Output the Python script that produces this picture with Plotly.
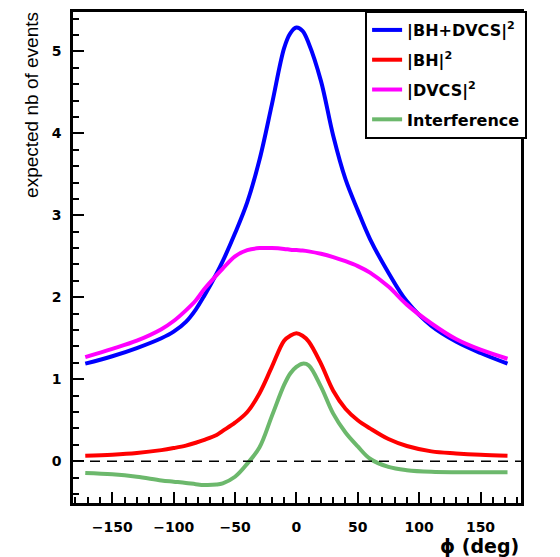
import plotly.graph_objects as go

phi = [-172, -150, -130, -110, -100, -90, -82, -75, -65, -60, -50, -40, -30, -20, -10, -5,
       0, 5, 10, 20, 30, 40, 50, 60, 75, 90, 110, 130, 150, 172]

bh_dvcs = [1.19, 1.28, 1.38, 1.50, 1.58, 1.70, 1.85, 2.02, 2.29, 2.44, 2.78, 3.16, 3.68, 4.35, 5.04, 5.22,
           5.29, 5.25, 5.10, 4.64, 3.97, 3.44, 3.06, 2.71, 2.30, 1.95, 1.65, 1.46, 1.32, 1.19]
bh = [0.067, 0.08, 0.10, 0.135, 0.16, 0.19, 0.225, 0.26, 0.32, 0.37, 0.47, 0.60, 0.83, 1.15, 1.47, 1.53,
      1.56, 1.53, 1.46, 1.19, 0.86, 0.64, 0.50, 0.40, 0.27, 0.185, 0.12, 0.095, 0.078, 0.067]
dvcs = [1.27, 1.37, 1.47, 1.61, 1.71, 1.84, 1.96, 2.10, 2.27, 2.35, 2.50, 2.575, 2.60, 2.60, 2.59, 2.58,
        2.575, 2.57, 2.56, 2.53, 2.49, 2.44, 2.38, 2.30, 2.13, 1.91, 1.68, 1.49, 1.36, 1.25]
interf = [-0.143, -0.16, -0.19, -0.235, -0.25, -0.265, -0.28, -0.29, -0.285, -0.27, -0.19, -0.03, 0.17, 0.55, 0.93, 1.07,
          1.15, 1.19, 1.17, 0.91, 0.58, 0.35, 0.18, 0.03, -0.07, -0.11, -0.13, -0.135, -0.135, -0.135]

series = [
    ("|BH+DVCS|<sup>2</sup>", bh_dvcs, "#0000ff"),
    ("|BH|<sup>2</sup>", bh, "#ff0000"),
    ("|DVCS|<sup>2</sup>", dvcs, "#ff00ff"),
    ("Interference", interf, "#6cb86c"),
]

x_ticks = [-150, -100, -50, 0, 50, 100, 150]
y_ticks = [0, 1, 2, 3, 4, 5]

fig = go.Figure()
for i, (name, vals, col) in enumerate(series):
    fig.add_trace(go.Scatter(
        x=phi, y=vals, mode="lines", name=name, legendgroup=str(i),
        line=dict(color=col, width=4, shape="spline", smoothing=1.0),
    ))

fig.add_shape(type="line", xref="paper", yref="y", x0=0, x1=1, y0=0, y1=0,
              line=dict(color="black", width=1.5, dash="10px,7px"))

axis_common = dict(
    showline=True, linecolor="black", linewidth=2.5, mirror=True,
    showgrid=False, zeroline=False, ticks="inside", tickcolor="black",
    tickwidth=1.5, ticklen=11,
    tickfont=dict(family="DejaVu Sans", size=14, color="black", weight="bold"),
)

fig.update_xaxes(range=[-182, 183], tickvals=x_ticks, ticklabelstandoff=9,
                 minor=dict(dtick=10, tick0=0, ticks="inside", ticklen=6, tickcolor="black", tickwidth=1.5),
                 **axis_common)
fig.update_yaxes(range=[-0.51, 5.48], tickvals=y_ticks, ticklabelstandoff=6,
                 minor=dict(dtick=0.2, tick0=0, ticks="inside", ticklen=6, tickcolor="black", tickwidth=1.5),
                 **axis_common)

fig.add_annotation(text="expected nb of events", xref="paper", yref="paper",
                   x=-0.094, y=1.004, xanchor="center", yanchor="top", textangle=-90,
                   showarrow=False,
                   font=dict(family="Liberation Sans", size=19, color="black"))
fig.add_annotation(text="ϕ (deg)", xref="paper", yref="paper",
                   x=1.0, y=-0.088, xanchor="right", yanchor="middle", showarrow=False,
                   font=dict(family="DejaVu Sans", size=19, color="black", weight="bold"))

fig.update_layout(
    width=560, height=557,
    margin=dict(l=73, r=39, t=9, b=54),
    paper_bgcolor="white", plot_bgcolor="white",
    showlegend=True,
    legend=dict(x=0.652, y=1.002, xanchor="left", yanchor="top",
                bgcolor="white", bordercolor="black", borderwidth=2,
                traceorder="grouped", tracegroupgap=6, entrywidth=160,
                font=dict(family="DejaVu Sans", size=16, color="black", weight="bold")),
)

fig.write_html("out.html")
